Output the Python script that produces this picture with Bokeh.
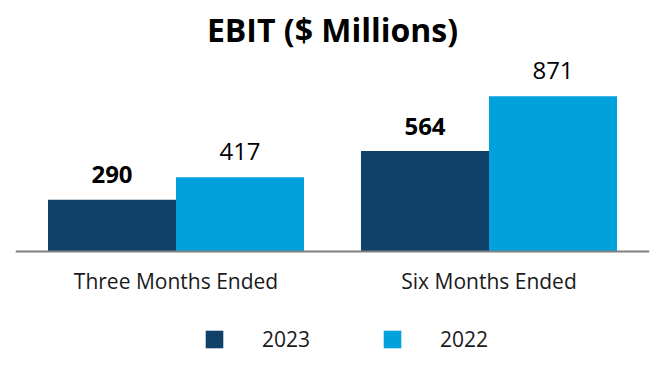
from bokeh.plotting import figure
from bokeh.models import ColumnDataSource, FactorRange, Range1d, Legend, LegendItem, Span
from bokeh.transform import dodge
from bokeh.core.properties import value
from bokeh.embed import file_html
from bokeh.resources import INLINE

categories = ["Three Months Ended", "Six Months Ended"]
years = ["2023", "2022"]
ebit_2023 = [290, 564]
ebit_2022 = [417, 871]

dark = "#0f4169"
light = "#00a1dc"
font = "Open Sans"

src = ColumnDataSource(dict(
    cat=categories,
    zero=[0] * len(categories),
    y2023=ebit_2023,
    y2022=ebit_2022,
    t2023=[str(v) for v in ebit_2023],
    t2022=[str(v) for v in ebit_2022],
))

# frame: 196 px above the baseline, 122 px below it
y_top = 1100
y_bottom = -y_top * 122 / 196

p = figure(
    frame_width=634, frame_height=318,
    x_range=FactorRange(*categories, range_padding=0.0128),
    y_range=Range1d(y_bottom, y_top),
    output_backend="svg", toolbar_location=None,
    min_border_left=15, min_border_right=8, min_border_top=0, min_border_bottom=0,
    title="EBIT ($ Millions)",
)
p.outline_line_color = None
p.background_fill_color = "white"
p.border_fill_color = "white"

p.title.align = "center"
p.title.text_font = font
p.title.text_font_size = "32px"
p.title.text_font_style = "bold"
p.title.text_color = "black"

bw = 0.409
r1 = p.vbar(x=dodge("cat", -bw / 2, range=p.x_range), top="y2023", width=bw,
            source=src, fill_color=dark, line_color=None)
r2 = p.vbar(x=dodge("cat", bw / 2, range=p.x_range), top="y2022", width=bw,
            source=src, fill_color=light, line_color=None)

p.text(x=dodge("cat", -bw / 2, range=p.x_range), y="y2023", text="t2023", source=src,
       text_font=value(font), text_font_size="24px", text_font_style="bold",
       text_align="center", text_baseline="alphabetic", y_offset=-25, text_color="black")
p.text(x=dodge("cat", bw / 2, range=p.x_range), y="y2022", text="t2022", source=src,
       text_font=value(font), text_font_size="24px", text_font_style="normal",
       text_align="center", text_baseline="alphabetic", y_offset=-26, text_color="black")

# baseline
p.add_layout(Span(location=0, dimension="width", line_color="#808080", line_width=2))

# category labels
p.text(x="cat", y="zero", text="cat", source=src,
       text_font=value(font), text_font_size="21px", text_font_style="normal",
       text_align="center", text_baseline="middle", y_offset=29, text_color="#1a1a1a")

p.xaxis.visible = False
p.yaxis.visible = False
p.xgrid.visible = False
p.ygrid.visible = False

legend = Legend(items=[LegendItem(label=years[0], renderers=[r1]),
                       LegendItem(label=years[1], renderers=[r2])],
                orientation="horizontal", location=(188, 20))
legend.label_text_font = font
legend.label_text_font_size = "21px"
legend.label_text_color = "#1a1a1a"
legend.glyph_width = 22
legend.glyph_height = 22
legend.label_standoff = 37
legend.spacing = 71
legend.border_line_color = None
legend.background_fill_alpha = 0
legend.margin = 0
legend.padding = 0
p.add_layout(legend)

open("out.html", "w").write(file_html(p, INLINE))
